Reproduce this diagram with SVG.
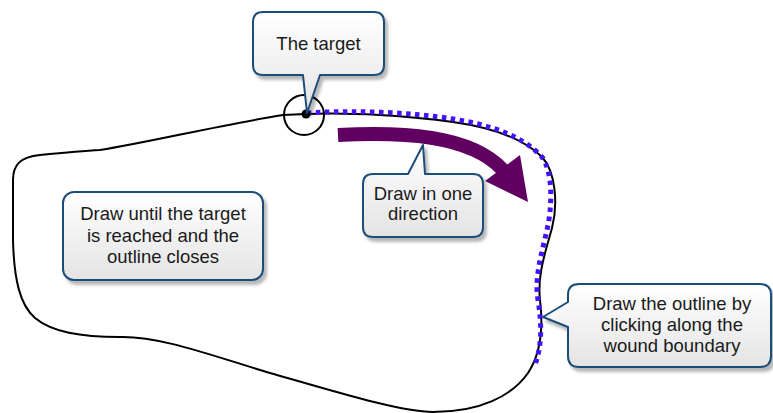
<svg xmlns="http://www.w3.org/2000/svg" width="773" height="413" viewBox="0 0 773 413">
<defs>
<linearGradient id="g" x1="0" y1="0" x2="0" y2="1">
<stop offset="0" stop-color="#ffffff"/>
<stop offset="1" stop-color="#e4e4e4"/>
</linearGradient>
<filter id="sh" x="-10%" y="-10%" width="130%" height="140%">
<feDropShadow dx="3" dy="4" stdDeviation="1.5" flood-color="#000" flood-opacity="0.28"/>
</filter>
<style>
.call{fill:url(#g);stroke:#1f4e79;stroke-width:2;stroke-linejoin:round;filter:url(#sh)}
.t{font-family:"Liberation Sans",Arial,sans-serif;font-size:18.5px;fill:#1a1a1a;text-anchor:middle}
.outline{fill:none;stroke:#000;stroke-width:2}
.dots{fill:none;stroke:#4411ff;stroke-width:5;stroke-dasharray:4.5 4.5}
</style>
</defs>
<rect width="773" height="413" fill="#fff"/>

<g id="wound">
<path class="outline" d="M306,114 C350,112 410,116 453,122 C495,128 525,140 542,157 C556,172 558,205 552,228 C546,250 537,275 540,300 C543,325 542,352 528,373 C512,396 480,412 433,412 C400,412 330,390 270,373 C210,355 160,336 120,337 C80,337 52,332 35,318 C20,305 14,280 13,240 L13,180 C13,165 20,157 40,155 C60,153 80,151 100,150 C150,142 220,125 283,115 Z"/>
<path class="dots" d="M307,113 C350,110 410,112 453,119 C492,125 524,137 542,157 C553,172 552,205 548,225 C543,250 534,275 538,300 C542,325 542,345 535,365"/>
<circle cx="304" cy="115" r="20" fill="none" stroke="#000" stroke-width="2"/>
<circle cx="306" cy="114" r="4.5" fill="#000"/>
</g>

<g id="connectors">
<path d="M338,135 C400,132 470,134 503,170" fill="none" stroke="#600060" stroke-width="14"/>
<polygon points="520,155 528,202 485,181" fill="#600060"/>
</g>

<g id="target">
<path class="call" d="M263,12 H374 Q384,12 384,22 V65 Q384,75 374,75 H320 L307,113 L303,75 H263 Q253,75 253,65 V22 Q253,12 263,12 Z"/>
<text class="t" x="318.5" y="50">The target</text>
</g>

<g id="direction">
<path class="call" d="M373,174 H408 L423,145 L425,174 H473 Q483,174 483,184 V227 Q483,237 473,237 H373 Q363,237 363,227 V184 Q363,174 373,174 Z"/>
<text class="t" x="423" y="200">Draw in one</text>
<text class="t" x="423" y="220">direction</text>
</g>

<g id="closes">
<rect class="call" x="63" y="192" width="200" height="88" rx="11"/>
<text class="t" x="163" y="220">Draw until the target</text>
<text class="t" x="163" y="241.5">is reached and the</text>
<text class="t" x="163" y="263">outline closes</text>
</g>

<g id="boundary">
<path class="call" d="M579,284 H760 Q771,284 771,295 V356 Q771,367 760,367 H579 Q568,367 568,356 V327 L543,317 L568,302 V295 Q568,284 579,284 Z"/>
<text class="t" x="672" y="310">Draw the outline by</text>
<text class="t" x="672" y="331">clicking along the</text>
<text class="t" x="672" y="352">wound boundary</text>
</g>
</svg>
